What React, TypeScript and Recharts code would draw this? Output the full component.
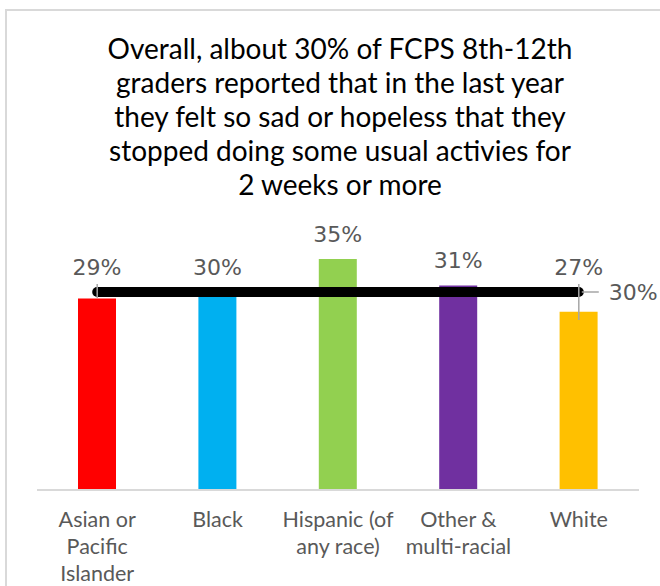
import { ComposedChart, Bar, Line, XAxis, YAxis, Cell, LabelList } from "recharts";

const categories = ["Asian or\nPacific\nIslander", "Black", "Hispanic (of\nany race)", "Other &\nmulti-racial", "White"];
const percents = [29, 30, 35, 31, 27];
const overall = 30;
const COLORS = ["#ff0000", "#00b0f0", "#92d050", "#7030a0", "#ffc000"];

const TITLE = [
  "Overall, albout 30% of FCPS 8th-12th",
  "graders reported that in the last year",
  "they felt so sad or hopeless that they",
  "stopped doing some usual activies for",
  "2 weeks or more",
];

const data = categories.map((name, i) => ({
  name,
  value: percents[i],
  overall,
}));

const FONT = "Lato, 'Open Sans', sans-serif";
const NUM_FONT = "'DejaVu Sans', Verdana, sans-serif";
const GRAY = "#595959";

function CategoryTick(props: any) {
  const { x, y, payload } = props;
  const lines = String(payload.value).split("\n");
  return (
    <g>
      {lines.map((l: string, i: number) => (
        <text key={i} x={x} y={y + 29 + i * 27} textAnchor="middle" fill={GRAY} fontSize={21.5} fontFamily={FONT}>
          {l}
        </text>
      ))}
    </g>
  );
}

function ValueLabel(props: any) {
  const { x, y, width, height, value } = props;
  const perUnit = height / value;
  const lineY = y + height - overall * perUnit;
  const cy = Math.min(y, lineY) - 25;
  return (
    <text x={x + width / 2} y={cy + 8} textAnchor="middle" fill={GRAY} fontSize={22} fontFamily={NUM_FONT}>
      {value}%
    </text>
  );
}

// leader ticks at the ends of the overall line, label on the last point
function OverallLabel(props: any) {
  const { x, y, index } = props;
  if (index === 0) {
    return <line x1={x} y1={y - 8} x2={x} y2={y + 6} stroke="#a6a6a6" strokeWidth={1.5} />;
  }
  if (index !== data.length - 1) return null;
  return (
    <g>
      <line x1={x} y1={y - 8} x2={x} y2={y + 28} stroke="#a6a6a6" strokeWidth={1.5} />
      <line x1={x + 3} y1={y} x2={x + 20} y2={y} stroke="#a6a6a6" strokeWidth={1.5} />
      <text x={x + 30} y={y + 8} fill={GRAY} fontSize={22} fontFamily={NUM_FONT}>
        {overall}%
      </text>
    </g>
  );
}

export default function App() {
  return (
    <div style={{ position: "absolute", left: 0, top: 0, width: 660, height: 586, background: "#fff", overflow: "hidden" }}>
      <div
        style={{
          position: "absolute",
          left: 5,
          top: 9,
          width: 700,
          height: 700,
          borderTop: "2px solid #d9d9d9",
          borderLeft: "2px solid #d9d9d9",
        }}
      />
      <div
        style={{
          position: "absolute",
          left: 0,
          top: 31,
          width: 680,
          textAlign: "center",
          fontFamily: FONT,
          fontSize: 28,
          lineHeight: "34px",
          color: "#000",
        }}
      >
        {TITLE.map((t, i) => (
          <div key={i}>{t}</div>
        ))}
      </div>
      <div style={{ position: "absolute", left: 0, top: 0 }}>
        <ComposedChart width={660} height={586} data={data} margin={{ top: 226, right: 21, bottom: 0, left: 37 }}>
          <XAxis
            dataKey="name"
            height={96}
            axisLine={{ stroke: "#d9d9d9", strokeWidth: 2 }}
            tickLine={false}
            tick={<CategoryTick />}
            interval={0}
          />
          <YAxis hide domain={[0, 40]} />
          <Bar dataKey="value" barSize={38} isAnimationActive={false}>
            {data.map((_d, i) => (
              <Cell key={`cell-${i}`} fill={COLORS[i]} />
            ))}
            <LabelList dataKey="value" content={<ValueLabel />} />
          </Bar>
          <Line
            dataKey="overall"
            stroke="#000"
            strokeWidth={10}
            strokeLinecap="round"
            dot={false}
            isAnimationActive={false}
            label={<OverallLabel />}
          />
        </ComposedChart>
      </div>
    </div>
  );
}
